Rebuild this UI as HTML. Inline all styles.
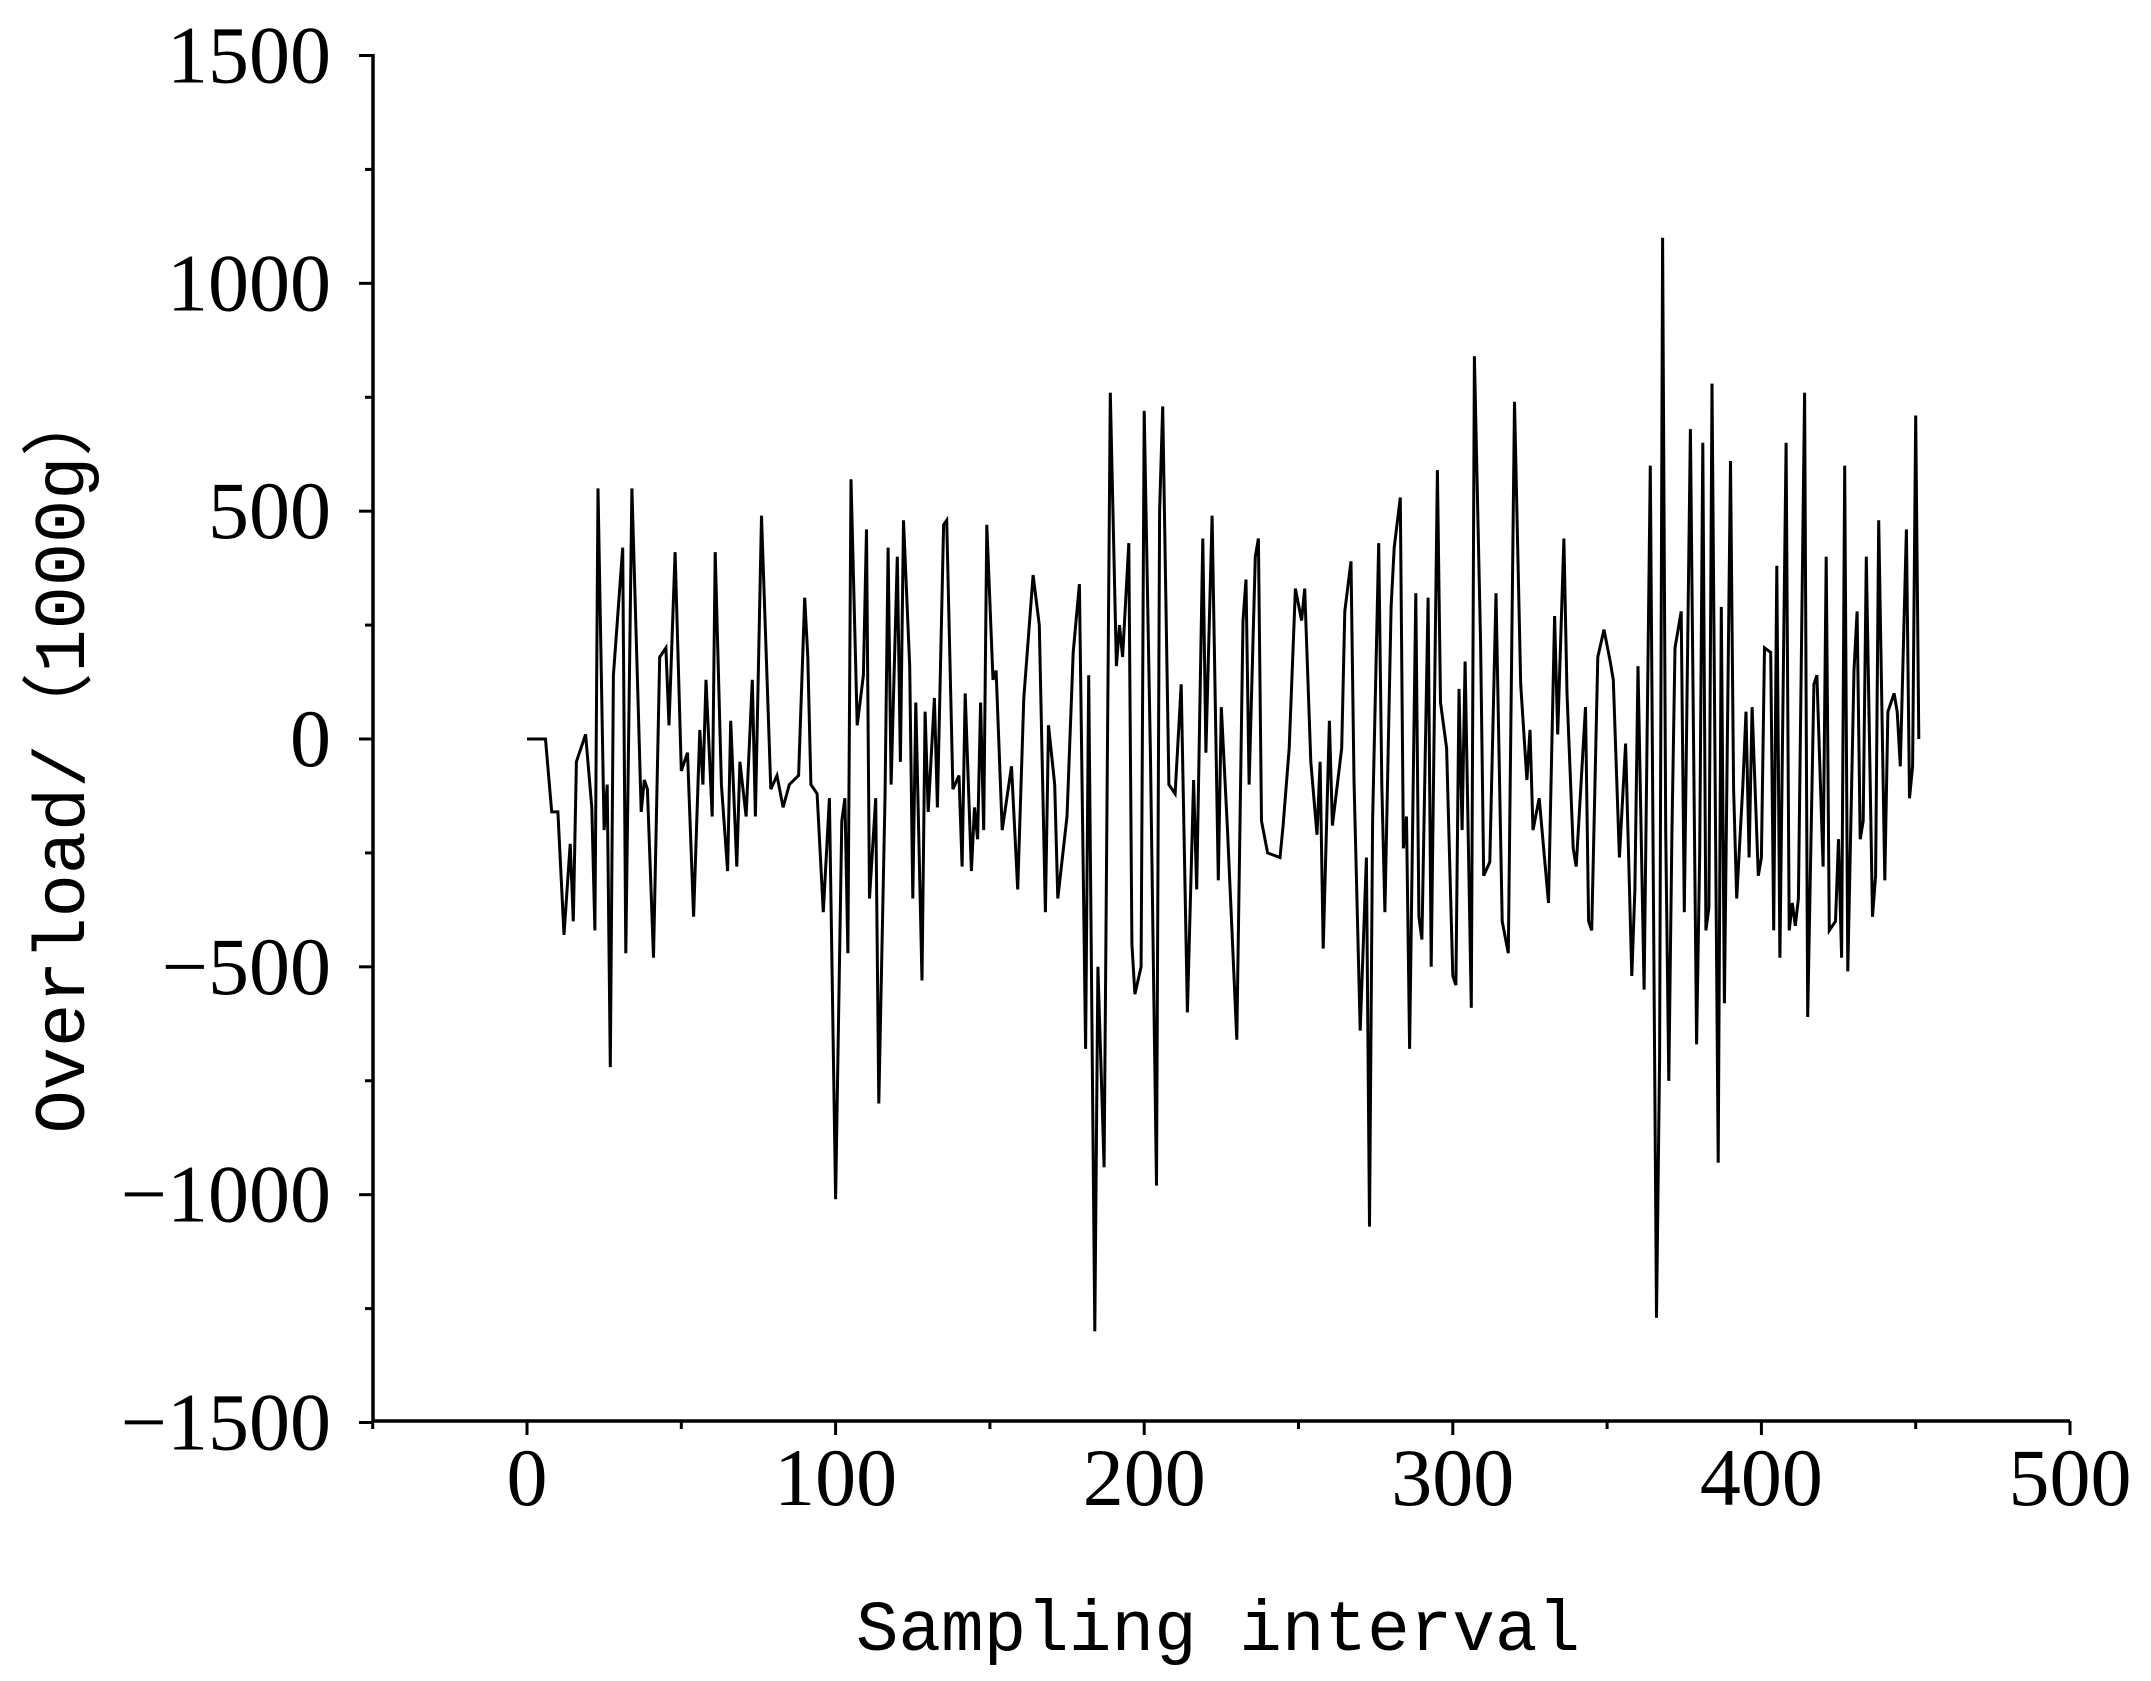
<!DOCTYPE html>
<html><head><meta charset="utf-8"><style>
html,body{margin:0;padding:0;background:#fff;}
svg{display:block;}
</style></head><body>
<svg id="chart" width="2151" height="1681" viewBox="0 0 2151 1681" xmlns="http://www.w3.org/2000/svg">
<g id="axes"></g>
<g id="series"></g>
<text x="1218" y="1650" text-anchor="middle" font-family="Liberation Mono, monospace" font-size="71" fill="#000">Sampling interval</text>
<text transform="translate(84,759) rotate(-90)" text-anchor="middle" font-family="Liberation Mono, 'Noto Sans CJK SC', monospace" font-size="72" fill="#000">Overload/（1000g）</text>
</svg>
<script>
const xTicks=[0,100,200,300,400,500];
const yTicks=[-1500,-1000,-500,0,500,1000,1500];
const sampleIdx=[0,6,8,10,12,14,15,16,19,21,22,23,25,26,27,28,31,32,34,36,37,38,39,41,43,45,46,48,50,52,54,56,57,58,60,61,63,65,66,68,69,71,73,74,76,79,81,83,85,88,90,91,92,94,96,98,100,102,103,104,105,107,109,110,111,113,114,116,117,118,120,121,122,124,125,126,128,129,130,132,133,135,136,138,140,141,142,144,145,146,147,148,149,151,152,154,157,159,161,164,166,168,169,171,172,175,177,179,181,182,184,185,187,189,191,192,193,195,196,197,199,200,202,204,205,206,208,210,212,214,216,217,219,220,222,224,225,227,230,232,233,234,236,237,238,240,244,245,247,249,251,252,254,256,257,258,260,261,264,265,267,268,270,272,273,274,276,277,278,280,281,283,284,285,286,288,289,290,292,293,295,296,298,300,301,302,303,304,306,307,309,310,312,314,316,318,320,322,324,325,326,328,331,333,334,336,337,339,340,343,344,345,347,349,351,352,354,356,358,359,360,362,364,366,367,368,369,370,371,372,374,375,377,379,380,381,382,383,384,386,387,388,390,391,392,394,395,396,397,399,400,401,403,404,405,406,408,409,410,411,412,414,415,417,418,420,421,422,424,425,426,427,428,430,431,432,433,434,436,437,438,440,441,443,444,445,447,448,449,450,451];
const overload=[0,0,-160,-160,-430,-230,-400,-50,10,-150,-420,550,-200,-100,-720,140,420,-470,550,80,-160,-90,-110,-480,180,200,30,410,-70,-30,-390,20,-100,130,-170,410,-100,-290,40,-280,-50,-170,130,-170,490,-110,-80,-150,-100,-80,310,180,-100,-120,-380,-130,-1010,-180,-130,-470,570,30,140,460,-350,-130,-800,-130,420,-100,400,-50,480,160,-350,80,-530,60,-160,90,-150,470,480,-110,-80,-280,100,-290,-150,-220,80,-200,470,130,150,-200,-60,-330,90,360,250,-380,30,-100,-350,-170,190,340,-680,140,-1300,-500,-940,760,160,250,180,430,-450,-560,-500,720,-30,-980,500,730,-100,-120,120,-600,-90,-330,440,-30,490,-310,70,-200,-660,260,350,-100,400,440,-180,-250,-260,-190,-20,330,260,330,-50,-210,-50,-460,40,-190,-20,280,390,-90,-640,-260,-1070,-180,430,-100,-380,290,420,530,-240,-170,-680,320,-390,-440,310,-500,590,80,-20,-520,-540,110,-200,170,-590,840,210,-300,-270,320,-400,-470,740,120,-90,20,-200,-130,-360,270,10,440,100,-240,-280,70,-400,-420,180,240,170,130,-260,-10,-520,-330,160,-550,600,-1270,-700,1100,-200,-750,-210,200,280,-380,680,-670,-250,650,-420,-370,780,-930,290,-580,610,-110,-350,-100,60,-260,70,-300,-260,200,190,-420,380,-480,650,-420,-360,-410,-350,760,-610,120,140,-280,400,-420,-400,-220,-480,600,-510,150,280,-220,-180,400,-390,-300,480,-310,60,100,60,-60,460,-130,-60,710,0];
const NS='http://www.w3.org/2000/svg';
const X0=373,X1=2070,Y0=1421,Y1=54;
function sx(v){return 527+(v-0)*(2070-527)/500;}
function sy(v){return 739+(-v)*(1421-54)/3000;}
function mk(tag,attrs,parent){const e=document.createElementNS(NS,tag);for(const k in attrs)e.setAttribute(k,attrs[k]);parent.appendChild(e);return e;}
const axes=document.getElementById('axes');
let xl=mk('line',{x1:X0,y1:Y0,x2:X1,y2:Y0,stroke:'#000','stroke-width':3.5},axes);


let yl=mk('line',{x1:X0,y1:Y0,x2:X0,y2:Y1,stroke:'#000','stroke-width':3.5},axes);


for(let v=-50;v<=500;v+=50){
  const major=v%100===0;
  const t=mk('line',{x1:sx(v),y1:Y0,x2:sx(v),y2:Y0+(major?14:8),stroke:'#000','stroke-width':3},axes);
  
  
}
xTicks.forEach(v=>{
  const t=mk('text',{x:sx(v),y:1505,'text-anchor':'middle','font-family':'Liberation Serif, serif','font-size':82,fill:'#000'},axes);
  t.textContent=v;
  
  
});
for(let v=-1500;v<=1500;v+=250){
  const major=v%500===0;
  const t=mk('line',{x1:X0,y1:sy(v),x2:X0-(major?14:8),y2:sy(v),stroke:'#000','stroke-width':3},axes);
  
  
}
yTicks.forEach(v=>{
  const t=mk('text',{x:331,y:sy(v)+27,'text-anchor':'end','font-family':'Liberation Serif, serif','font-size':82,fill:'#000'},axes);
  t.textContent=v<0?'\u2212'+Math.abs(v):v;
  
  
});
const series=document.getElementById('series');
const pts=sampleIdx.map((x,i)=>sx(x).toFixed(1)+','+sy(overload[i]).toFixed(1)).join(' ');
const pl=mk('polyline',{points:pts,fill:'none',stroke:'#000','stroke-width':3,'stroke-linejoin':'miter'},series);


</script>
</body></html>
